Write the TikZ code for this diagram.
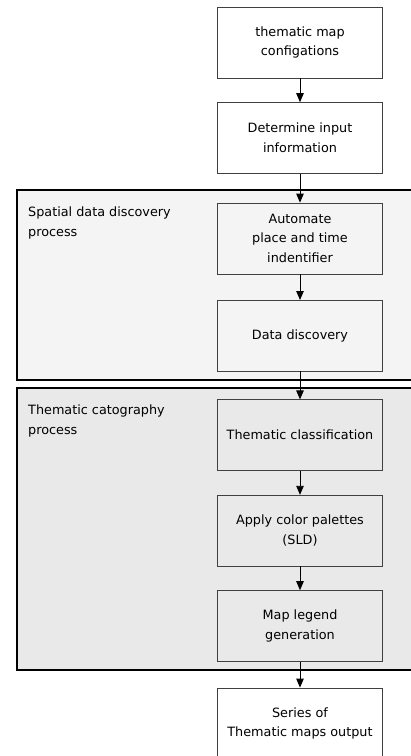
\documentclass[tikz,border=0pt]{standalone}
\usepackage{fontspec}
\setmainfont{DejaVu Sans}
\usetikzlibrary{positioning,arrows.meta}

\definecolor{spatialbg}{HTML}{F4F4F4}
\definecolor{themebg}{HTML}{E9E9E9}

\begin{document}
\begin{tikzpicture}[
		x=1pt, y=1pt,
		node distance=24pt,
		font=\fontsize{12.8}{19.5}\selectfont,
		box/.style={draw=black!75, align=center, minimum width=165pt, minimum height=71pt, inner sep=0pt},
		grp/.style={draw=black, line width=1.8pt},
		lbl/.style={anchor=north west, align=left, inner sep=0pt},
		arr/.style={-{Triangle[length=9pt,width=7.5pt]}, line width=0.9pt}
		]
		\useasboundingbox (0,0) rectangle (411,-756);
		
		% the two process groups
		\draw[grp, fill=spatialbg] (17,-190) rectangle (440,-380);
		\draw[grp, fill=themebg] (17,-388) rectangle (440,-670);
		\node[lbl] (g1) at (28,-207) {Spatial data discovery\\process};
		\node[lbl] (g2) at (28,-405) {Thematic catography\\process};
		
		\node[box] (b1) at (300,-42.5) {thematic map\\configations};
		\node[box, below=of b1] (b2) {Determine input\\information};
		\node[box, below=29pt of b2] (b3) {Automate\\place and time\\indentifier};
		\node[box, below=26pt of b3] (b4) {Data discovery};
		\node[box, below=28pt of b4] (b5) {Thematic classification};
		\node[box, below=of b5] (b6) {Apply color palettes\\(SLD)};
		\node[box, below=of b6] (b7) {Map legend\\generation};
		\node[box, below=26pt of b7] (b8) {Series of\\Thematic maps output};
		
		\draw[arr] (b1) -- (b2);
		\draw[arr] (b2) -- (b3);
		\draw[arr] (b3) -- (b4);
		\draw[arr] (b4) -- (b5);
		\draw[arr] (b5) -- (b6);
		\draw[arr] (b6) -- (b7);
		\draw[arr] (b7) -- (b8);
	\end{tikzpicture}
\end{document}
